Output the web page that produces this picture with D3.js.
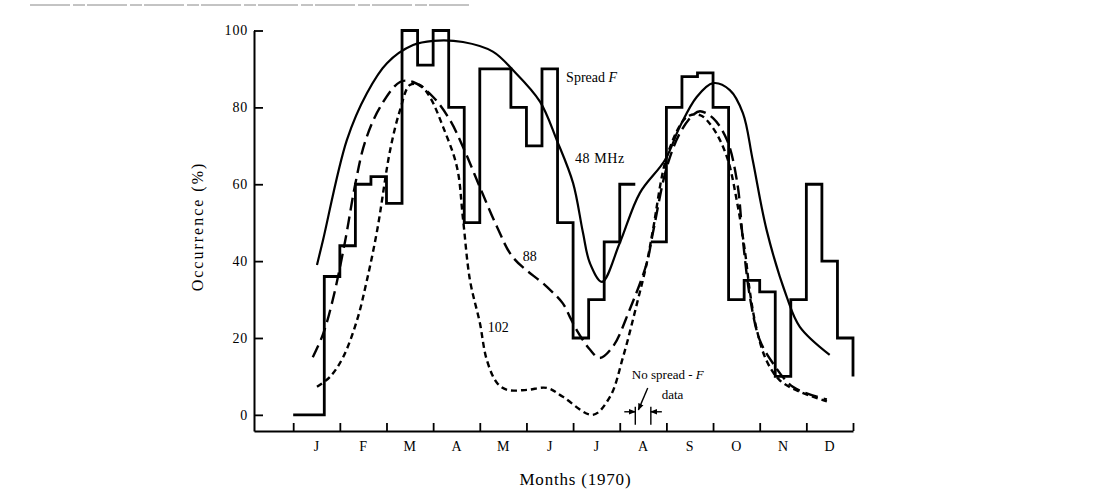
<!DOCTYPE html>
<html>
<head>
<meta charset="utf-8">
<script src="https://cdn.jsdelivr.net/npm/d3@7"></script>
<style>
  html, body { margin: 0; padding: 0; background: #fff; }
  svg { display: block; }
  text { font-family: "Liberation Serif", "Times New Roman", serif; fill: #000; }
</style>
</head>
<body>
<svg id="chart" width="1104" height="501"></svg>
<script>
// ---------- data ----------
const monthLabels = ["J","F","M","A","M","J","J","A","S","O","N","D"];
const yTickValues = [0, 20, 40, 60, 80, 100];

// Spread-F occurrence histogram, one value per third of a month (null = no data)
const spreadFBins = [0, 0, 36, 44, 60, 62, 55, 100, 91, 100, 80, 50,
                     90, 90, 80, 70, 90, 50, 20, 30, 45, 60, null, 45,
                     80, 88, 89, 80, 30, 35, 32, 10, 30, 60, 40, 20];
const spreadFEndValue = 10;

// 48 MHz (solid)
const months48 = [0.51,0.64,1.15,1.58,2.01,2.57,3.0,3.64,4.28,4.71,5.29,5.65,6.0,6.21,6.36,6.62,7.0,7.43,7.97,8.29,8.65,9.0,9.36,9.64,9.85,10.15,10.58,10.86,11.5];
const values48 = [39,45.5,71.5,83.7,91.5,96.2,97.3,97,94.5,89.7,81.5,71.5,60.3,47.5,39.5,34.6,44.7,57.7,66.3,75,82.7,86.3,84.5,78.5,66.3,48,30.7,22.9,15.6];

// 88 MHz (long dashes)
const months88 = [0.42,0.64,0.85,1.11,1.33,1.54,1.86,2.29,2.57,3.0,3.36,3.64,4.0,4.37,4.71,5.44,5.78,5.93,6.08,6.36,6.57,6.85,7.21,7.58,7.71,8.01,8.29,8.57,8.72,9.0,9.3,9.52,9.64,9.79,10.0,10.28,10.71,11.44];
const values88 = [15,21,30,45,60,71,80,86.6,86.6,82.7,76.7,69.7,59.3,48.9,41,33.3,29,25.5,22,17,14.8,17.7,27.3,39.5,47.3,64.5,73.3,78,79,77.2,71.5,60.3,45.5,30.7,19.5,13.5,7.3,4];

// 102 MHz (short dashes)
const months102 = [0.51,0.79,1.07,1.37,1.58,1.80,2.08,2.29,2.50,2.72,2.93,3.21,3.51,3.64,3.79,4.0,4.15,4.37,4.59,5.01,5.44,5.78,6.42,6.79,7.07,7.37,7.58,7.71,8.03,8.44,8.72,9.0,9.3,9.52,9.69,9.79,9.94,10.15,10.43,10.86,11.44];
const values102 = [7.3,9.9,15,24.7,35,48,69,79.3,85.8,85.8,82.7,75,64.5,51,35,24,14.3,8.3,6.5,6.5,7,4.7,0,4.7,15,29,39.5,48,68,77.5,78,74.6,67,55,42,32,22,14,9,6,3.5];

// ---------- scales ----------
const svg = d3.select("#chart");
const x = d3.scaleLinear().domain([-0.84, 12]).range([254, 853]);
const y = d3.scaleLinear().domain([-4.2, 100]).range([431, 30.5]);

// faint scan border at top
svg.append("line").attr("x1", 30).attr("x2", 470).attr("y1", 5).attr("y2", 5)
  .attr("stroke", "#888").attr("stroke-width", 1).attr("stroke-dasharray", "40,3,12,2");

// ---------- axes ----------
const xAxis = d3.axisBottom(x).tickValues(d3.range(0, 13)).tickSize(-8).tickSizeOuter(0).tickFormat("");
const gx = svg.append("g").attr("transform", `translate(0,${y(-4.2)})`).call(xAxis);
gx.select(".domain").attr("stroke", "#000").attr("stroke-width", 2);
gx.selectAll(".tick line").attr("stroke", "#000").attr("stroke-width", 1.8);

svg.append("g").selectAll("text").data(monthLabels).join("text")
  .attr("x", (d, i) => x(i + 0.5)).attr("y", 451)
  .attr("text-anchor", "middle").attr("font-size", 14).text(d => d);

const yAxis = d3.axisLeft(y).tickValues(yTickValues).tickSize(-9).tickSizeOuter(0).tickPadding(6);
const gy = svg.append("g").attr("transform", `translate(${x(-0.84)},0)`).call(yAxis);
gy.select(".domain").attr("stroke", "#000").attr("stroke-width", 2);
gy.selectAll(".tick line").attr("stroke", "#000").attr("stroke-width", 1.8);
gy.selectAll(".tick text").attr("font-size", 14).attr("font-family", "Liberation Serif, serif")
  .attr("letter-spacing", 0.8);

svg.append("text").attr("x", x(6.05)).attr("y", 485).attr("text-anchor", "middle")
  .attr("font-size", 17).attr("letter-spacing", 0.8).text("Months (1970)");

svg.append("text").attr("transform", `translate(203,${y(49)}) rotate(-90)`)
  .attr("text-anchor", "middle").attr("font-size", 16).attr("letter-spacing", 2)
  .text("Occurrence (%)");

// ---------- histogram ----------
const histPts = [];
spreadFBins.forEach((v, i) => {
  if (v === null) histPts.push({ m: i / 3, v: null });
  else { histPts.push({ m: i / 3, v }); histPts.push({ m: (i + 1) / 3, v }); }
});
histPts.push({ m: 12, v: spreadFEndValue });
const stepLine = d3.line().defined(d => d.v !== null).x(d => x(d.m)).y(d => y(d.v));
svg.append("path").attr("d", stepLine(histPts)).attr("fill", "none")
  .attr("stroke", "#000").attr("stroke-width", 2.8).attr("stroke-linejoin", "miter");

// ---------- curves ----------
const curveLine = d3.line().curve(d3.curveCatmullRom.alpha(0.5)).x(d => x(d[0])).y(d => y(d[1]));
function drawCurve(ms, vs, dash, w) {
  svg.append("path").attr("d", curveLine(d3.zip(ms, vs))).attr("fill", "none")
    .attr("stroke", "#000").attr("stroke-width", w)
    .attr("stroke-dasharray", dash);
}
drawCurve(months48, values48, null, 2.2);
drawCurve(months88, values88, "13,6", 2.4);
drawCurve(months102, values102, "6,4", 2.4);

// ---------- annotations ----------
const sf = svg.append("text").attr("x", x(5.85)).attr("y", y(86.6)).attr("font-size", 14);
sf.append("tspan").text("Spread ");
sf.append("tspan").attr("font-style", "italic").text("F");
svg.append("text").attr("x", x(6.04)).attr("y", y(65.5)).attr("font-size", 14).attr("letter-spacing", 0.6).text("48 MHz");
svg.append("text").attr("x", x(4.92)).attr("y", y(40)).attr("font-size", 14).text("88");
svg.append("text").attr("x", x(4.17)).attr("y", y(21.6)).attr("font-size", 14).text("102");

const nd = svg.append("text").attr("x", x(7.26)).attr("y", y(9.4)).attr("font-size", 13);
nd.append("tspan").text("No spread - ");
nd.append("tspan").attr("font-style", "italic").text("F");
svg.append("text").attr("x", x(7.9)).attr("y", y(4.2)).attr("font-size", 13).text("data");

// no-data gap marker
const gapStart = spreadFBins.indexOf(null) / 3, gapEnd = gapStart + 1 / 3;
const defs = svg.append("defs");
defs.append("marker").attr("id", "ah").attr("viewBox", "0 0 10 10").attr("refX", 9).attr("refY", 5)
  .attr("markerWidth", 5).attr("markerHeight", 5).attr("orient", "auto")
  .append("path").attr("d", "M0,1L10,5L0,9Z").attr("fill", "#000");
const mk = svg.append("g").attr("stroke", "#000").attr("stroke-width", 1.4);
[gapStart, gapEnd].forEach(g => {
  mk.append("line").attr("x1", x(g)).attr("x2", x(g)).attr("y1", y(2.1)).attr("y2", y(-2.6));
});
mk.append("line").attr("x1", x(gapStart) - 11).attr("x2", x(gapStart)).attr("y1", y(0.8)).attr("y2", y(0.8)).attr("marker-end", "url(#ah)");
mk.append("line").attr("x1", x(gapEnd) + 11).attr("x2", x(gapEnd)).attr("y1", y(0.8)).attr("y2", y(0.8)).attr("marker-end", "url(#ah)");
mk.append("line").attr("x1", x(7.6)).attr("x2", x(7.4)).attr("y1", y(7)).attr("y2", y(1.3)).attr("marker-end", "url(#ah)");
</script>
</body>
</html>
